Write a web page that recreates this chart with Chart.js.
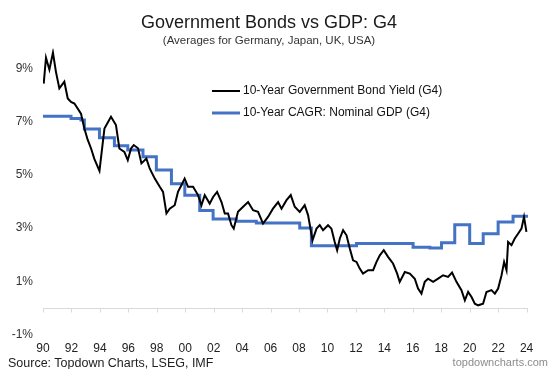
<!DOCTYPE html>
<html>
<head>
    <title>Government Bonds vs GDP: G4</title>
    <script src="https://cdn.jsdelivr.net/npm/chart.js"></script>
    <style>
        body {
            margin: 0;
            background-color: white;
            font-family: "Liberation Sans", Arial, sans-serif;
        }
        #wrap {
            position: relative;
            width: 548px;
            height: 369px;
        }
        .foot {
            position: absolute;
            white-space: nowrap;
            line-height: 1;
        }
        #source {
            left: 8px;
            top: 357px;
            font-size: 12.5px;
            color: #222;
        }
        #site {
            right: 0px;
            top: 357px;
            font-size: 11px;
            color: #8c8c8c;
        }
    </style>
</head>
<body>
<div id="wrap">
    <canvas id="bondChart" width="548" height="369"></canvas>
    <div class="foot" id="source">Source: Topdown Charts, LSEG, IMF</div>
    <div class="foot" id="site">topdowncharts.com</div>
</div>

<script>
    // 10-year government bond yield, G4 average (%)
    const bondYears = [
        1990.05, 1990.21, 1990.45, 1990.70, 1990.91, 1991.15, 1991.50, 1991.74, 1991.97, 1992.21,
        1992.67, 1992.91, 1993.14, 1993.38, 1993.61, 1993.97, 1994.32, 1994.78, 1995.13, 1995.37,
        1995.72, 1995.96, 1996.19, 1996.38, 1996.68, 1996.92, 1997.27, 1997.50, 1997.86, 1998.21,
        1998.44, 1998.68, 1998.91, 1999.26, 1999.49, 1999.73, 1999.96, 2000.20, 2000.55, 2000.90,
        2001.14, 2001.37, 2001.72, 2001.96, 2002.24, 2002.55, 2002.78, 2003.01, 2003.25, 2003.41,
        2003.71, 2004.07, 2004.42, 2004.77, 2005.12, 2005.47, 2005.82, 2006.17, 2006.53, 2006.77,
        2007.12, 2007.42, 2007.70, 2008.05, 2008.40, 2008.64, 2008.95, 2009.23, 2009.46, 2009.69,
        2010.04, 2010.28, 2010.51, 2010.68, 2010.87, 2011.10, 2011.34, 2011.57, 2011.80, 2012.04,
        2012.27, 2012.50, 2012.86, 2013.21, 2013.45, 2013.68, 2013.96, 2014.26, 2014.61, 2014.90,
        2015.08, 2015.44, 2015.79, 2016.14, 2016.37, 2016.61, 2016.84, 2017.07, 2017.43, 2017.78,
        2018.13, 2018.48, 2018.76, 2019.07, 2019.42, 2019.66, 2019.89, 2020.13, 2020.36, 2020.59,
        2020.94, 2021.18, 2021.53, 2021.77, 2022.00, 2022.24, 2022.42, 2022.59, 2022.70, 2022.94,
        2023.17, 2023.40, 2023.64, 2023.82, 2023.99
    ];
    const bondYield = [
        8.43, 9.40, 8.95, 9.59, 8.87, 8.25, 8.50, 7.87, 7.74, 7.68,
        7.30, 6.74, 6.32, 5.99, 5.60, 5.15, 6.74, 7.18, 6.87, 5.99,
        5.86, 5.55, 5.99, 6.12, 6.00, 5.43, 5.61, 5.24, 4.86, 4.55,
        4.36, 3.55, 3.73, 3.86, 4.36, 4.61, 4.86, 4.55, 4.55, 4.24,
        3.86, 4.24, 3.92, 4.17, 4.36, 3.98, 3.55, 3.55, 3.11, 2.98,
        3.61, 3.80, 3.98, 3.67, 3.61, 3.17, 3.42, 3.73, 3.98, 3.73,
        4.05, 4.24, 3.80, 3.61, 3.86, 3.48, 2.54, 2.98, 3.11, 2.92,
        3.11, 2.98, 2.48, 2.17, 2.61, 2.92, 2.73, 2.23, 1.79, 1.73,
        1.48, 1.29, 1.42, 1.42, 1.73, 1.98, 2.17, 1.92, 1.67, 1.29,
        0.98, 1.35, 1.29, 1.10, 0.73, 0.54, 0.98, 1.10, 0.98, 1.10,
        1.23, 1.17, 1.33, 0.98, 0.67, 0.29, 0.60, 0.41, 0.16, 0.10,
        0.16, 0.60, 0.67, 0.54, 0.73, 1.23, 1.73, 1.42, 2.48, 2.36,
        2.61, 2.79, 2.98, 3.42, 2.86
    ];

    // 10-year CAGR of nominal GDP, G4 (%), one value per step
    const gdpYears = [
        1990.00, 1991.97, 1992.67, 1992.91, 1993.97, 1995.02, 1995.96, 1997.03, 1997.97, 1999.03,
        1999.97, 2001.02, 2001.96, 2003.60, 2005.00, 2008.05, 2008.87, 2012.04, 2016.02, 2017.20,
        2018.02, 2018.95, 2020.00, 2020.95, 2022.00, 2023.05, 2024.10
    ];
    const gdpCagr = [
        7.20, 7.12, 7.06, 6.72, 6.39, 6.09, 5.93, 5.68, 5.18, 4.67,
        4.23, 3.66, 3.34, 3.26, 3.19, 3.00, 2.34, 2.42, 2.28, 2.25,
        2.45, 3.13, 2.42, 2.79, 3.23, 3.45, 3.45
    ];

    const yearTicks = [1990, 1992, 1994, 1996, 1998, 2000, 2002, 2004, 2006, 2008,
                       2010, 2012, 2014, 2016, 2018, 2020, 2022, 2024];
    const pctTicks = [-1, 1, 3, 5, 7, 9];

    const seriesNames = ['10-Year Government Bond Yield (G4)', '10-Year CAGR: Nominal GDP (G4)'];

    const FONT = '"Liberation Sans", Arial, sans-serif';

    // grey axis line at 0% with small tick marks hanging below it
    const zeroAxis = {
        id: 'zeroAxis',
        beforeDatasetsDraw(chart) {
            const { ctx, chartArea, scales: { x, y } } = chart;
            const y0 = Math.round(y.getPixelForValue(0)) + 0.5;
            ctx.save();
            ctx.strokeStyle = '#d9d9d9';
            ctx.lineWidth = 1;
            ctx.beginPath();
            ctx.moveTo(chartArea.left, y0);
            ctx.lineTo(chartArea.right, y0);
            yearTicks.forEach(v => {
                const px = Math.round(x.getPixelForValue(v)) + 0.5;
                ctx.moveTo(px, y0);
                ctx.lineTo(px, y0 + 4);
            });
            ctx.stroke();
            ctx.restore();
        }
    };

    // legend drawn inside the plot, under the title
    const insideLegend = {
        id: 'insideLegend',
        afterDraw(chart) {
            const ctx = chart.ctx;
            const x0 = 212, y0 = 91, gap = 22;
            ctx.save();
            ctx.font = '12px ' + FONT;
            ctx.textBaseline = 'middle';
            chart.data.datasets.forEach((ds, i) => {
                const y = y0 + i * gap;
                ctx.strokeStyle = ds.borderColor;
                ctx.lineWidth = ds.borderWidth;
                ctx.beginPath();
                ctx.moveTo(x0, y);
                ctx.lineTo(x0 + 28, y);
                ctx.stroke();
                ctx.fillStyle = '#111';
                ctx.fillText(ds.label, x0 + 31, y);
            });
            ctx.restore();
        }
    };

    const ctx = document.getElementById('bondChart').getContext('2d');
    const bondChart = new Chart(ctx, {
        type: 'line',
        data: {
            datasets: [
                {
                    label: seriesNames[0],
                    data: bondYears.map((x, i) => ({ x: x, y: bondYield[i] })),
                    borderColor: '#000000',
                    borderWidth: 2,
                    pointRadius: 0,
                    tension: 0
                },
                {
                    label: seriesNames[1],
                    data: gdpYears.map((x, i) => ({ x: x, y: gdpCagr[i] })),
                    borderColor: '#4472C4',
                    borderWidth: 3,
                    pointRadius: 0,
                    stepped: true
                }
            ]
        },
        options: {
            responsive: false,
            animation: false,
            layout: {
                padding: { top: 12, left: 10, right: 20, bottom: 6 }
            },
            scales: {
                x: {
                    type: 'linear',
                    min: 1990,
                    max: 2024.1,
                    afterBuildTicks: s => { s.ticks = yearTicks.map(v => ({ value: v })); },
                    grid: { display: false, drawTicks: false },
                    border: { display: false },
                    ticks: {
                        padding: 7,
                        maxRotation: 0,
                        autoSkip: false,
                        color: '#222',
                        font: { family: FONT, size: 12 },
                        callback: v => String(v % 100).padStart(2, '0')
                    }
                },
                y: {
                    min: -1,
                    max: 9.75,
                    afterBuildTicks: s => { s.ticks = pctTicks.map(v => ({ value: v })); },
                    afterFit: s => { s.width = 33; },
                    grid: { display: false, drawTicks: false },
                    border: { display: false },
                    ticks: {
                        padding: 10,
                        color: '#333',
                        font: { family: FONT, size: 12 },
                        callback: v => v + '%'
                    }
                }
            },
            plugins: {
                legend: { display: false },
                tooltip: { enabled: false },
                title: {
                    display: true,
                    text: 'Government Bonds vs GDP: G4',
                    color: '#1a1a1a',
                    font: { family: FONT, size: 18, weight: 'normal' },
                    padding: { top: 0, bottom: 0 }
                },
                subtitle: {
                    display: true,
                    text: '(Averages for Germany, Japan, UK, USA)',
                    color: '#333',
                    font: { family: FONT, size: 11.5 },
                    padding: { top: 0, bottom: 1 }
                }
            }
        },
        plugins: [zeroAxis, insideLegend]
    });
</script>
</body>
</html>
